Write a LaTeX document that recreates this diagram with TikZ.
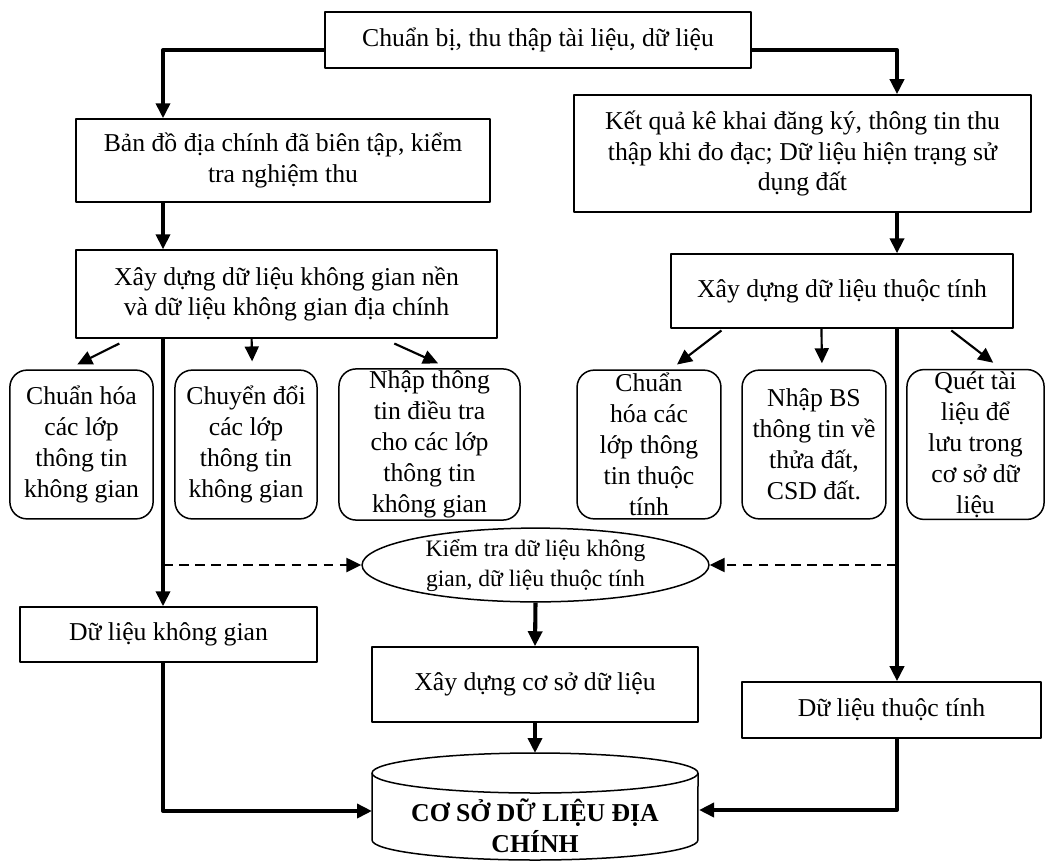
\documentclass[tikz,border=0pt]{standalone}
\usepackage{fontspec}
\setmainfont{Liberation Serif}
\usetikzlibrary{arrows.meta,calc,shapes.geometric}

\tikzset{
  box/.style={draw,line width=0.7pt,align=center,inner sep=1pt},
  rbox/.style={box,rounded corners=8pt,minimum height=2.44cm},
  conn/.style={line width=1.9pt,-{Triangle[length=7pt,width=6.5pt]}},
  sconn/.style={line width=1pt,-{Triangle[length=7pt,width=6.5pt]}},
  dconn/.style={line width=1.2pt,dash pattern=on 4.5pt off 3pt,-{Triangle[length=7pt,width=6.5pt]}}
}

\begin{document}
\begin{tikzpicture}[x=0.0164cm,y=-0.0164cm,line join=round,font=\fontsize{12}{14.4}\selectfont]
  \useasboundingbox (0,0) rectangle (1047,861);
  \coordinate (colL) at (163,0);
  \coordinate (colR) at (897,0);
  \coordinate (dbN) at (535,753);
  \coordinate (dbW) at (372,811);
  \coordinate (dbE) at (699,810);

  \node[box,minimum width=6.99cm,minimum height=0.92cm] (top) at (538,40) {Chuẩn bị, thu thập tài liệu, dữ liệu};
  \node[box,minimum width=6.79cm,minimum height=1.36cm] (bando) at (283,160.5) {Bản đồ địa chính đã biên tập, kiểm\\tra nghiệm thu};
  \node[box,minimum width=6.90cm,minimum height=1.44cm] (kgian) at (286.5,294) {Xây dựng dữ liệu không gian nền\\và dữ liệu không gian địa chính};
  \node[box,minimum width=7.49cm,minimum height=1.92cm] (ketqua) at (802.5,153.5) {Kết quả kê khai đăng ký, thông tin thu\\thập khi đo đạc; Dữ liệu hiện trạng sử\\dụng đất};
  \node[box,minimum width=5.61cm,minimum height=1.21cm] (thuoctinh) at (842,291) {Xây dựng dữ liệu thuộc tính};

  \node[rbox,minimum width=2.35cm] (cA) at (81.5,444.5) {Chuẩn hóa\\các lớp\\thông tin\\không gian};
  \node[rbox,minimum width=2.33cm] (cB) at (246,444.5) {Chuyển đổi\\các lớp\\thông tin\\không gian};
  \node[rbox,minimum width=2.97cm] (cC) at (429.5,444.5) {Nhập thông\\tin điều tra\\cho các lớp\\thông tin\\không gian};
  \node[rbox,minimum width=2.36cm] (cD) at (649,444.5) {Chuẩn\\hóa các\\lớp thông\\tin thuộc\\tính};
  \node[rbox,minimum width=2.36cm] (cE) at (814,444.5) {Nhập BS\\thông tin về\\thửa đất,\\CSD đất.};
  \node[rbox,minimum width=2.25cm] (cF) at (975.5,444.5) {Quét tài\\liệu để\\lưu trong\\cơ sở dữ\\liệu};

  \node[draw,ellipse,line width=0.7pt,inner sep=0pt,align=center,minimum width=5.69cm,minimum height=1.21cm,font=\fontsize{11}{14}\selectfont] (kiemtra) at (535.5,565) {Kiểm tra dữ liệu không\\gian, dữ liệu thuộc tính};
  \node[box,minimum width=4.87cm,minimum height=0.90cm] (dlkg) at (168.5,634.5) {Dữ liệu không gian};
  \node[box,minimum width=4.90cm,minimum height=0.92cm] (dltt) at (891.5,710) {Dữ liệu thuộc tính};
  \node[box,minimum width=5.35cm,minimum height=1.23cm] (xdcsdl) at (535,684.5) {Xây dựng cơ sở dữ liệu};

  % cylinder
  \draw[line width=0.7pt] (372,773) -- (372,840) arc[start angle=180,end angle=360,x radius=2.673cm,y radius=0.328cm] -- (698,773);
  \draw[line width=0.7pt,fill=white] (535,773) ellipse [x radius=2.673cm,y radius=0.328cm];
  \node[align=center,font=\fontsize{12}{14.4}\selectfont\bfseries] (db) at (535,826) {CƠ SỞ DỮ LIỆU ĐỊA\\CHÍNH};

  % connectors
  \draw[conn] ([yshift=-4.7pt]top.west) -| (colL |- bando.north);
  \draw[conn] ([yshift=-4.7pt]top.east) -| (colR |- ketqua.north);
  \draw[conn] (colL |- bando.south) -- (colL |- kgian.north);
  \draw[conn] (colR |- ketqua.south) -- (colR |- thuoctinh.north);
  \draw[conn] (colL |- kgian.south) -- (colL |- dlkg.north);
  \draw[conn] (colR |- thuoctinh.south) -- (colR |- dltt.north);
  \draw[dconn] (colL |- kiemtra.west) -- (kiemtra.west);
  \draw[dconn] (colR |- kiemtra.east) -- (kiemtra.east);
  \draw[conn] (colL |- dlkg.south) |- (dbW);
  \draw[conn] (colR |- dltt.south) |- (dbE);
  \draw[conn] (kiemtra.south) -- (xdcsdl.north);
  \draw[conn] (xdcsdl.south) -- (dbN);

  \draw[sconn] ([xshift=0.72cm,yshift=-0.08cm]kgian.south west) -- ([xshift=-0.07cm,yshift=0.08cm]cA.north);
  \draw[sconn] ([xshift=2.89cm]kgian.south west) -- ([xshift=0.10cm,yshift=0.13cm]cB.north);
  \draw[sconn] ([xshift=5.23cm,yshift=-0.08cm]kgian.south west) -- ([xshift=0.14cm,yshift=0.08cm]cC.north);
  \draw[sconn] ([xshift=0.84cm,yshift=-0.03cm]thuoctinh.south west) -- ([xshift=0.46cm,yshift=0.08cm]cD.north);
  \draw[sconn] ([xshift=2.48cm]thuoctinh.south west) -- ([xshift=0.13cm,yshift=0.10cm]cE.north);
  \draw[sconn] ([xshift=4.61cm,yshift=-0.03cm]thuoctinh.south west) -- ([xshift=0.29cm,yshift=0.10cm]cF.north);
\end{tikzpicture}
\end{document}
